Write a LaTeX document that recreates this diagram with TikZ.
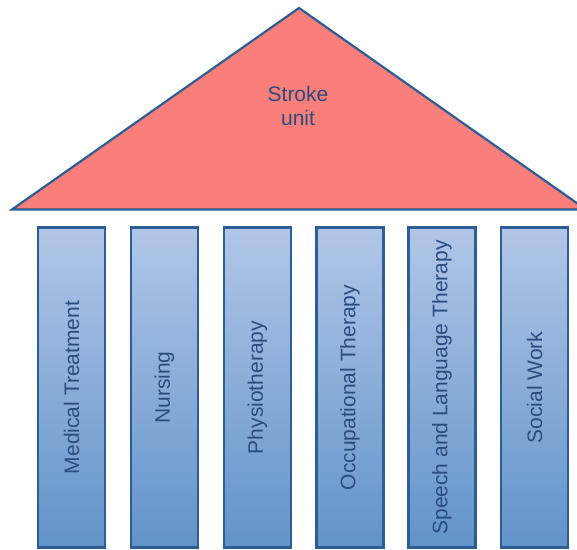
\documentclass[tikz,border=0pt]{standalone}
\usepackage{fontspec}
\setmainfont{Liberation Sans}
\definecolor{edgeblue}{HTML}{2E5D93}
\definecolor{textblue}{HTML}{2B4C7E}
\definecolor{roof}{HTML}{FA7F7A}
\definecolor{pillartop}{HTML}{B1C6E8}
\definecolor{pillarbot}{HTML}{6193C9}
\begin{document}
\begin{tikzpicture}[x=1pt,y=1pt,
  roofstyle/.style={draw=edgeblue, fill=roof, line width=2.2pt, line join=miter},
  pillar/.style={draw=edgeblue, line width=2.2pt, top color=pillartop, bottom color=pillarbot,
    minimum width=67pt, minimum height=320pt, inner sep=0pt, outer sep=0pt},
  label/.style={text=textblue, font=\fontsize{21}{24.5}\selectfont, align=center}]
\path[use as bounding box] (0,0) rectangle (577,-549);
\begin{scope}
\clip (0,0) rectangle (577,-549);
% roof
\draw[roofstyle] (12,-209.5) -- (299,-8) -- (586,-209.5) -- cycle;
\node[label] (roofText) at (298,-106) {Stroke\\unit};
% pillars
\foreach \cx/\name/\txt in {71.5/p1/Medical Treatment, 164.5/p2/Nursing, 257.5/p3/Physiotherapy,
    350/p4/Occupational Therapy, 442/p5/Speech and Language Therapy, 534.5/p6/Social Work}{
  \node[pillar] (\name) at (\cx,-387.5) {};
  \node[label, rotate=90] (\name t) at (\name.center) {\txt};
}
\end{scope}
\end{tikzpicture}
\end{document}
